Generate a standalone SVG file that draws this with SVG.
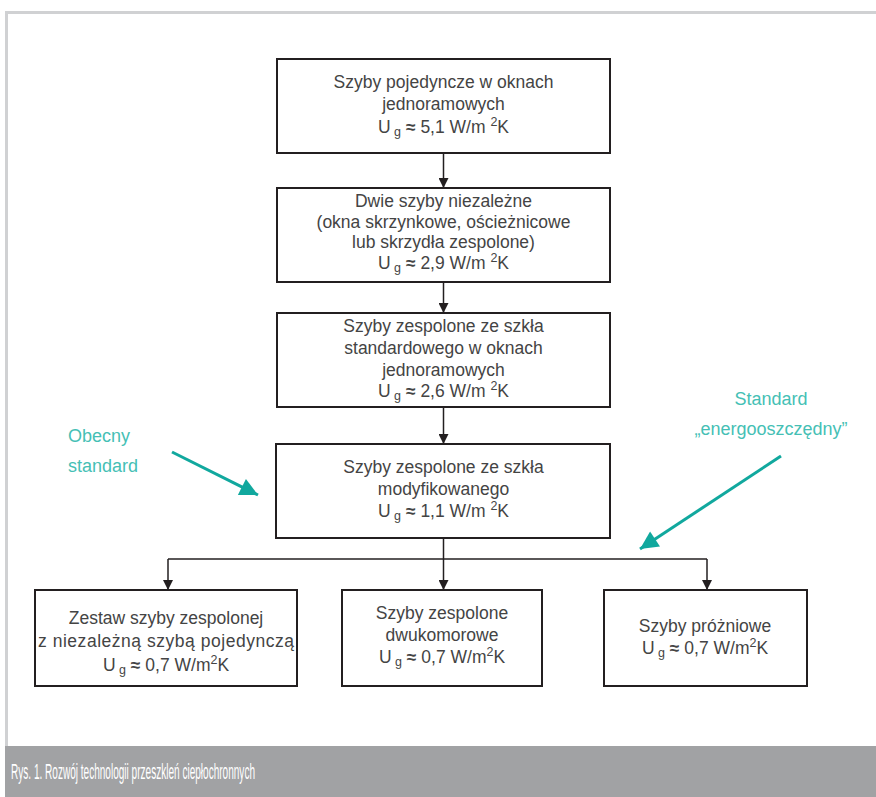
<svg xmlns="http://www.w3.org/2000/svg" width="876" height="797" viewBox="0 0 876 797">
<style>
.box{fill:#fff;stroke:#231f20;stroke-width:2}
.t{font-family:"Liberation Sans",Arial,sans-serif;font-size:17.5px;fill:#444;text-anchor:middle}
.sub{font-size:12.5px}
.ap{font-weight:bold}
.conn{fill:none;stroke:#231f20;stroke-width:1.5}
.teal{font-family:"Liberation Sans",Arial,sans-serif;font-size:18px;fill:#45bfb5}
.tarrow{stroke:#11a89e;stroke-width:3;fill:none}
</style>
<defs>
<marker id="ah" viewBox="0 0 10 10" refX="10" refY="5" markerWidth="10" markerHeight="10" markerUnits="userSpaceOnUse" orient="auto">
<path d="M0,0 L10,5 L0,10 Z" fill="#231f20"/>
</marker>
<marker id="th" viewBox="0 0 10 10" refX="10" refY="5" markerWidth="22" markerHeight="18" markerUnits="userSpaceOnUse" orient="auto">
<path d="M0,0 L10,5 L0,10 Z" fill="#11a89e"/>
</marker>
</defs>
<rect width="876" height="797" fill="#fff"/>
<polyline points="876,12.5 6.5,12.5 6.5,746" fill="none" stroke="#d0d1d3" stroke-width="3"/>
<rect x="5" y="746" width="871" height="51" fill="#a1a2a4"/>
<text x="11" y="779" font-family="'Liberation Sans',Arial,sans-serif" font-size="22" fill="#fff" textLength="244" lengthAdjust="spacingAndGlyphs">Rys. 1. Rozwój technologii przeszkleń ciepłochronnych</text>

<g id="connectors">
<line class="conn" x1="443.5" y1="153" x2="443.5" y2="188" marker-end="url(#ah)"/>
<line class="conn" x1="443.5" y1="282" x2="443.5" y2="313" marker-end="url(#ah)"/>
<line class="conn" x1="443.5" y1="407" x2="443.5" y2="444" marker-end="url(#ah)"/>
<line class="conn" x1="443.5" y1="538" x2="443.5" y2="559"/>
<line class="conn" x1="168" y1="559" x2="707" y2="559"/>
<line class="conn" x1="168" y1="559" x2="168" y2="590" marker-end="url(#ah)"/>
<line class="conn" x1="443.5" y1="559" x2="443.5" y2="590" marker-end="url(#ah)"/>
<line class="conn" x1="707" y1="559" x2="707" y2="590" marker-end="url(#ah)"/>
<line class="tarrow" x1="172" y1="452" x2="258" y2="495" marker-end="url(#th)"/>
<line class="tarrow" x1="781" y1="456" x2="640" y2="549" marker-end="url(#th)"/>
</g>

<g id="n1">
<rect class="box" x="277" y="59" width="333" height="94"/>
<text class="t" x="443.5" y="88">Szyby pojedyncze w oknach</text>
<text class="t" x="443.5" y="110">jednoramowych</text>
<text class="t" x="443.5" y="133">U<tspan class="sub" dy="3"> g</tspan><tspan class="ap" dy="-3"> ≈ </tspan>5,1 W/m <tspan class="sub" dy="-7">2</tspan><tspan dy="7">K</tspan></text>
</g>

<g id="n2">
<rect class="box" x="277" y="188" width="333" height="94"/>
<text class="t" x="443.5" y="207">Dwie szyby niezależne</text>
<text class="t" x="443.5" y="228">(okna skrzynkowe, ościeżnicowe</text>
<text class="t" x="443.5" y="248">lub skrzydła zespolone)</text>
<text class="t" x="443.5" y="269">U<tspan class="sub" dy="3"> g</tspan><tspan class="ap" dy="-3"> ≈ </tspan>2,9 W/m <tspan class="sub" dy="-7">2</tspan><tspan dy="7">K</tspan></text>
</g>

<g id="n3">
<rect class="box" x="277" y="313" width="333" height="94"/>
<text class="t" x="443.5" y="332">Szyby zespolone ze szkła</text>
<text class="t" x="443.5" y="354">standardowego w oknach</text>
<text class="t" x="443.5" y="376">jednoramowych</text>
<text class="t" x="443.5" y="397">U<tspan class="sub" dy="3"> g</tspan><tspan class="ap" dy="-3"> ≈ </tspan>2,6 W/m <tspan class="sub" dy="-7">2</tspan><tspan dy="7">K</tspan></text>
</g>

<g id="n4">
<rect class="box" x="276" y="444" width="334" height="94"/>
<text class="t" x="443.5" y="473">Szyby zespolone ze szkła</text>
<text class="t" x="443.5" y="495">modyfikowanego</text>
<text class="t" x="443.5" y="517">U<tspan class="sub" dy="3"> g</tspan><tspan class="ap" dy="-3"> ≈ </tspan>1,1 W/m <tspan class="sub" dy="-7">2</tspan><tspan dy="7">K</tspan></text>
</g>

<g id="n5">
<rect class="box" x="35" y="590" width="262" height="96"/>
<text class="t" x="166" y="624">Zestaw szyby zespolonej</text>
<text class="t" x="166" y="647" textLength="256" lengthAdjust="spacing">z niezależną  szybą  pojedynczą</text>
<text class="t" x="166" y="671">U<tspan class="sub" dy="3"> g</tspan><tspan class="ap" dy="-3"> ≈ </tspan>0,7 W/m<tspan class="sub" dy="-7">2</tspan><tspan dy="7">K</tspan></text>
</g>

<g id="n6">
<rect class="box" x="342" y="590" width="200" height="96"/>
<text class="t" x="442" y="619">Szyby zespolone</text>
<text class="t" x="442" y="641">dwukomorowe</text>
<text class="t" x="442" y="663">U<tspan class="sub" dy="3"> g</tspan><tspan class="ap" dy="-3"> ≈ </tspan>0,7 W/m<tspan class="sub" dy="-7">2</tspan><tspan dy="7">K</tspan></text>
</g>

<g id="n7">
<rect class="box" x="604" y="590" width="203" height="96"/>
<text class="t" x="705" y="632">Szyby próżniowe</text>
<text class="t" x="705" y="654">U<tspan class="sub" dy="3"> g</tspan><tspan class="ap" dy="-3"> ≈ </tspan>0,7 W/m<tspan class="sub" dy="-7">2</tspan><tspan dy="7">K</tspan></text>
</g>

<g id="label-obecny">
<text class="teal" x="68" y="442">Obecny</text>
<text class="teal" x="68" y="472">standard</text>
</g>
<g id="label-energo">
<text class="teal" x="771" y="405" text-anchor="middle">Standard</text>
<text class="teal" x="771" y="435" text-anchor="middle">„energooszczędny”</text>
</g>
</svg>
